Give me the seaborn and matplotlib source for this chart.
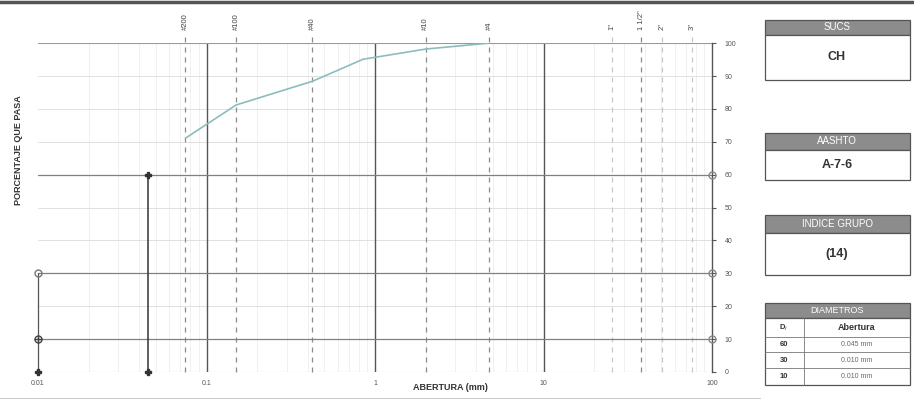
import numpy as np
import pandas as pd
import seaborn as sns
import matplotlib.pyplot as plt
from matplotlib.lines import Line2D
from matplotlib.patches import Rectangle

# curva granulometrica
abertura = [0.075, 0.15, 0.425, 0.85, 2.0, 4.75]
pasa = [71.1, 81.2, 88.4, 95.1, 98.2, 100.0]

# tamices (etiquetas superiores)
tamiz_mm = [0.075, 0.15, 0.425, 2.0, 4.75, 25.4, 38.1, 50.8, 76.2]
tamiz_lbl = ["#200", "#100", "#40", "#10", "#4", '1"', '1 1/2"', '2"', '3"']

# diametros efectivos
d_pct = [60, 30, 10]
d_mm = [0.045, 0.010, 0.010]

sucs = "CH"
aashto = "A-7-6"
indice = "(14)"

df = pd.DataFrame({"Abertura": abertura, "Pasa": pasa})

sns.set_style("white")
plt.rcParams["font.family"] = ["Liberation Sans", "DejaVu Sans"]

fig = plt.figure(figsize=(9.14, 4.05), dpi=100)
ax = fig.add_axes([0.0416, 0.0815, 0.7374, 0.812])
ax.set_xscale("log")
ax.set_xlim(0.01, 100)
ax.set_ylim(0, 100)

# grid
for dec in [0.01, 0.1, 1, 10]:
    for k in range(2, 10):
        ax.axvline(dec * k, color="#eeeeee", lw=0.6, zorder=0)
for v in [0.1, 1, 10]:
    ax.axvline(v, color="#555555", lw=1.0, zorder=1)
for h in range(10, 100, 10):
    ax.axhline(h, color="#e0e0e0", lw=0.7, zorder=0)
ax.axhline(100, color="#999999", lw=0.8, zorder=1)
ax.axhline(0, color="#bbbbbb", lw=0.8, zorder=1)

for m in tamiz_mm:
    c = "#8a8a8a" if m < 10 or m == 38.1 else "#c8c8c8"
    ax.plot([m, m], [0, 102], color=c, lw=0.9, ls=(0, (4, 4)), zorder=1, clip_on=False)
for m, l in zip(tamiz_mm, tamiz_lbl):
    ax.text(m, 1.04, l, transform=ax.get_xaxis_transform(), rotation=90,
            ha="center", va="bottom", fontsize=5.5, color="#444444")

# lineas de diametros
for p in d_pct:
    ax.plot([0.01, 100], [p, p], color="#808080", lw=0.9, zorder=2)
x60 = d_mm[0]
ax.plot([x60, x60], [0, 60], color="#333333", lw=1.1, zorder=3)
ax.plot([0.01, 0.01], [0, 30], color="#555555", lw=0.9, zorder=3, clip_on=False)
ax.plot([x60, x60], [0, 60], ls="none", marker="P", ms=5, color="#333333", zorder=4,
        clip_on=False)
ax.plot([0.01], [0], ls="none", marker="P", ms=5, color="#333333", zorder=4, clip_on=False)
ax.plot([0.01], [10], ls="none", marker="o", ms=5, mfc="none", mec="#444444", zorder=4,
        clip_on=False)
ax.plot([0.01], [10], ls="none", marker="+", ms=6, color="#444444", zorder=4, clip_on=False)
ax.plot([0.01], [30], ls="none", marker="o", ms=5, mfc="none", mec="#777777", zorder=4,
        clip_on=False)
ax.plot([100] * 3, d_pct, ls="none", marker="o", ms=5, mfc="none", mec="#888888", zorder=4,
        clip_on=False)

sns.lineplot(data=df, x="Abertura", y="Pasa", ax=ax, color="#8dbcbc", lw=1.2, zorder=5)

for s in ["top", "left", "bottom"]:
    ax.spines[s].set_visible(False)
ax.spines["right"].set_color("#555555")
ax.spines["right"].set_linewidth(1.0)
ax.yaxis.tick_right()
ax.set_yticks(range(0, 101, 10))
ax.tick_params(axis="y", labelsize=5, colors="#555555", length=3, pad=6)
ax.set_xticks([0.01, 0.1, 1, 10, 100])
ax.set_xticklabels(["0.01", "0.1", "1", "10", "100"])
ax.tick_params(axis="x", which="both", length=0, labelsize=5, colors="#555555", pad=6)
ax.minorticks_off()
ax.set_xlabel("")
ax.set_ylabel("")

fig.text(0.493, 0.043, "ABERTURA (mm)", fontsize=6.5, fontweight="bold", color="#333333",
         ha="center", va="center")
fig.text(0.020, 0.63, "PORCENTAJE QUE PASA", fontsize=6.5, fontweight="bold", color="#333333",
         rotation=90, ha="center", va="center")

# paneles derecha (coordenadas en pixeles)
W, H = 914, 405


def box(x0, y0, x1, y1, fc="white", ec="#555555", lw=0.9):
    fig.patches.append(Rectangle((x0 / W, 1 - y1 / H), (x1 - x0) / W, (y1 - y0) / H,
                                 transform=fig.transFigure, fc=fc, ec=ec, lw=lw))


def txt(x, y, s, **kw):
    fig.text(x / W, 1 - y / H, s, ha="center", va="center", **kw)


def panel(y0, yh, y1, title, value):
    box(765, y0, 910, yh, fc="#8c8c8c")
    txt(837, (y0 + yh) / 2, title, fontsize=7, color="white")
    box(765, yh, 910, y1)
    txt(837, (yh + y1) / 2, value, fontsize=9, fontweight="bold", color="#333333")


panel(20, 35, 80, "SUCS", sucs)
panel(133, 150, 180, "AASHTO", aashto)
panel(215, 233, 275, "INDICE GRUPO", indice)

box(765, 303, 910, 318, fc="#8c8c8c")
txt(837, 310.5, "DIAMETROS", fontsize=6.5, color="white")
rows = [318, 337, 352, 368, 385]
box(765, 318, 910, 385)
for r in rows[1:-1]:
    fig.add_artist(Line2D([765 / W, 910 / W], [1 - r / H] * 2, color="#777777", lw=0.6))
fig.add_artist(Line2D([804 / W] * 2, [1 - 318 / H, 1 - 385 / H], color="#777777", lw=0.6))
txt(784, 327.5, r"D$_i$", fontsize=5.5, fontweight="bold", color="#333333")
txt(857, 327.5, "Abertura", fontsize=6.5, fontweight="bold", color="#333333")
for i, (p, d) in enumerate(zip(d_pct, d_mm)):
    yc = (rows[i + 1] + rows[i + 2]) / 2
    txt(784, yc, str(p), fontsize=5.5, fontweight="bold", color="#333333")
    txt(857, yc, f"{d:.3f} mm", fontsize=5, color="#666666")

# bordes del formato
fig.add_artist(Line2D([0, 1], [1 - 2 / H] * 2, color="#555555", lw=2.5))
fig.add_artist(Line2D([0, 760 / W], [1 - 398 / H] * 2, color="#cccccc", lw=0.8))

fig.savefig("out.png", dpi=100)
